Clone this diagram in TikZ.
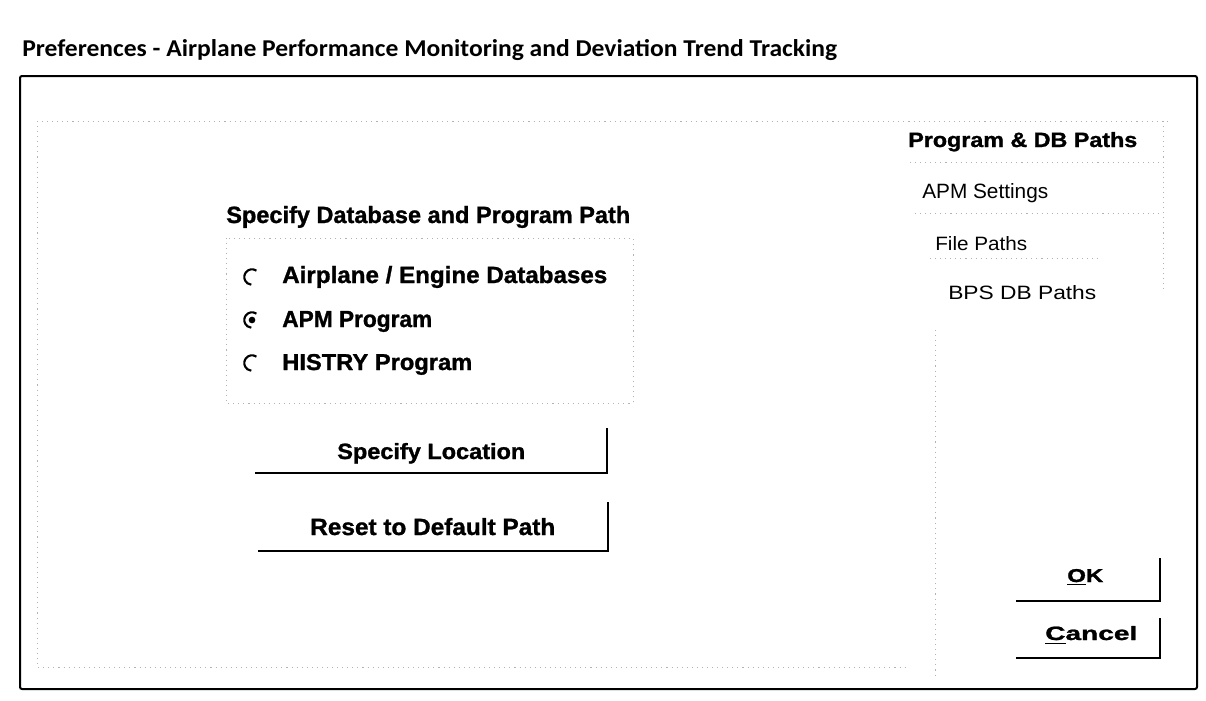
\documentclass[tikz,border=0pt]{standalone}
\usepackage{fontspec}
\setmainfont{Liberation Sans}
\newfontfamily\capfont{Carlito}
\newfontfamily\heavy[FakeBold=1.2]{Liberation Sans Bold}
\newdimen\px \px=0.75pt
% scale a text to a given width and ascender height, in pixels
\newcommand\fitwh[3]{\resizebox{#1\px}{#2\px}{#3}}
\begin{document}
\begin{tikzpicture}[x=0.75pt,y=-0.75pt,
  lbl/.style={inner sep=0pt, anchor=base west},
  frame/.style={line width=1.5pt, black, rounded corners=1.5pt},
  shade/.style={line width=1.7pt, black},
  etch/.style={gray!60, line width=0.5pt, dash pattern=on 0.8pt off 3pt},
  radio/.style={line width=1.6pt, black}]
\useasboundingbox (0,0) rectangle (1206,700);
\fill[white] (0,0) rectangle (1206,700);

% window caption and outer frame
\node[lbl] (title) at (22,56) {\capfont\bfseries\fitwh{815}{17}{Preferences - Airplane Performance Monitoring and Deviation Trend Tracking}};
\draw[frame] (20,76) rectangle (1197,689);

% faint etched panel lines
\draw[etch] (37,121) -- (1170,121);
\draw[etch] (37,121) -- (37,667) -- (905,667);
\draw[etch] (935,330) -- (935,676);
\draw[etch] (1163,121) -- (1163,290);
\draw[etch] (910,162) -- (1160,162);
\draw[etch] (915,213) -- (1160,213);
\draw[etch] (930,258) -- (1100,258);
\draw[etch] (226,238) rectangle (633,403);

% group: database / program path
\node[lbl] (grp) at (226,223) {\heavy\fitwh{404}{17}{Specify Database and Program Path}};

\node[lbl] (optA) at (282,283) {\heavy\fitwh{325}{17}{Airplane / Engine Databases}};
\node[lbl] (optB) at (282,327) {\heavy\fitwh{150}{16}{APM Program}};
\node[lbl] (optC) at (282,370) {\heavy\fitwh{190}{16}{HISTRY Program}};

\coordinate (rA) at (252,277);
\coordinate (rB) at (252,320);
\coordinate (rC) at (252,363);
\foreach \r in {rA,rB,rC}
  \draw[radio] (\r) ++(55:5.8pt) arc[start angle=55, end angle=265, radius=5.8pt];
\fill (rB) circle[radius=2.5pt];

% push buttons
\node[lbl] (spec) at (337,459) {\heavy\fitwh{188}{16}{Specify Location}};
\coordinate (specBL) at (255,473);
\coordinate (specBR) at (607,473);
\coordinate (specTR) at (607,428);
\draw[shade] (specBL) -- (specBR) -- (specTR);

\node[lbl] (reset) at (310,535) {\heavy\fitwh{245}{17}{Reset to Default Path}};
\coordinate (resetBL) at (258,551);
\coordinate (resetBR) at (608,551);
\coordinate (resetTR) at (608,502);
\draw[shade] (resetBL) -- (resetBR) -- (resetTR);

% navigation tree
\node[lbl] (nav0) at (908,147) {\heavy\fitwh{229}{15}{Program \& DB Paths}};
\node[lbl] (nav1) at (922,198) {\fitwh{126}{15}{APM Settings}};
\node[lbl] (nav2) at (935,250) {\fitwh{92}{14}{File Paths}};
\node[lbl] (nav3) at (948,299) {\fitwh{148}{14}{BPS DB Paths}};

% dialog buttons
\node[lbl] (ok) at (1067,582) {\heavy\fitwh{36}{13}{\underline{O}K}};
\coordinate (okBL) at (1016,601);
\coordinate (okBR) at (1160,601);
\coordinate (okTR) at (1160,558);
\draw[shade] (okBL) -- (okBR) -- (okTR);

\node[lbl] (cancel) at (1045,640) {\heavy\fitwh{92}{14}{\underline{C}ancel}};
\coordinate (cnBL) at (1016,658);
\coordinate (cnBR) at (1160,658);
\coordinate (cnTR) at (1160,618);
\draw[shade] (cnBL) -- (cnBR) -- (cnTR);
\end{tikzpicture}
\end{document}
